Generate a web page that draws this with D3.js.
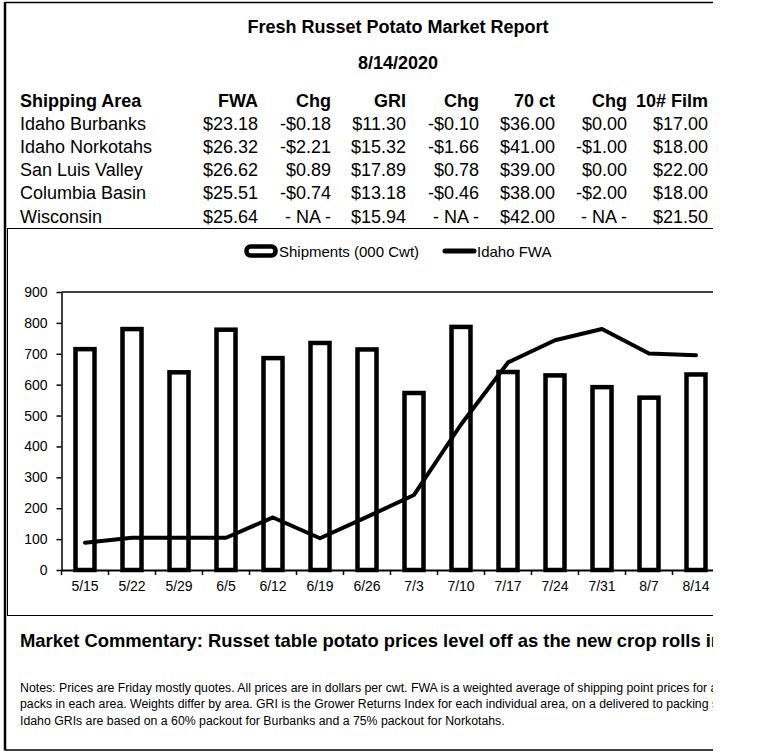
<!DOCTYPE html>
<html>
<head>
<meta charset="utf-8">
<script src="https://cdn.jsdelivr.net/npm/d3@7"></script>
<style>
  body { margin: 0; background: #fff; }
  svg { display: block; font-family: "Liberation Sans", Arial, sans-serif; }
  text { fill: #000; }
</style>
</head>
<body>
<svg width="773" height="755"></svg>
<script>
// table
const headers = ["Shipping Area", "FWA", "Chg", "GRI", "Chg", "70 ct", "Chg", "10# Film"]
const areas = ["Idaho Burbanks", "Idaho Norkotahs", "San Luis Valley", "Columbia Basin", "Wisconsin"]
const fwa = ["$23.18", "$26.32", "$26.62", "$25.51", "$25.64"]
const fwaChg = ["-$0.18", "-$2.21", "$0.89", "-$0.74", "- NA -"]
const gri = ["$11.30", "$15.32", "$17.89", "$13.18", "$15.94"]
const griChg = ["-$0.10", "-$1.66", "$0.78", "-$0.46", "- NA -"]
const ct70 = ["$36.00", "$41.00", "$39.00", "$38.00", "$42.00"]
const ct70Chg = ["$0.00", "-$1.00", "$0.00", "-$2.00", "- NA -"]
const film10 = ["$17.00", "$18.00", "$22.00", "$18.00", "$21.50"]

// chart
const weeks = ["5/15", "5/22", "5/29", "6/5", "6/12", "6/19", "6/26", "7/3", "7/10", "7/17", "7/24", "7/31", "8/7", "8/14"]
const shipments = [715, 780, 640, 778, 686, 735, 714, 573, 787, 641, 630, 592, 558, 633]
const idahoFWA = [2.95, 3.48, 3.48, 3.48, 5.67, 3.43, 5.73, 8.1, 15.7, 22.4, 24.8, 26.0, 23.36, 23.18]
const yTicks = [0, 100, 200, 300, 400, 500, 600, 700, 800, 900]

const notes = [
  "Notes: Prices are Friday mostly quotes. All prices are in dollars per cwt. FWA is a weighted average of shipping point prices for all",
  "packs in each area. Weights differ by area. GRI is the Grower Returns Index for each individual area, on a delivered to packing shed basis.",
  "Idaho GRIs are based on a 60% packout for Burbanks and a 75% packout for Norkotahs."
]

const svg = d3.select("svg")

svg.append("clipPath").attr("id", "page")
  .append("rect").attr("x", 0).attr("y", 0).attr("width", 713).attr("height", 755)

const page = svg.append("g").attr("clip-path", "url(#page)")

// frame
page.append("line").attr("x1", 5).attr("x2", 800).attr("y1", 2.5).attr("y2", 2.5)
  .attr("stroke", "#000").attr("stroke-width", 1.5)
page.append("line").attr("x1", 5).attr("x2", 800).attr("y1", 750).attr("y2", 750)
  .attr("stroke", "#000").attr("stroke-width", 1.5)
page.append("line").attr("x1", 5).attr("x2", 5).attr("y1", 2).attr("y2", 750.5)
  .attr("stroke", "#000").attr("stroke-width", 2.5)
page.append("rect").attr("x", 7.5).attr("y", 228.5).attr("width", 800).attr("height", 387)
  .attr("fill", "none").attr("stroke", "#000").attr("stroke-width", 1)

// titles
page.append("text").attr("x", 398).attr("y", 33).attr("text-anchor", "middle")
  .style("font-size", "18px").style("font-weight", "bold")
  .text("Fresh Russet Potato Market Report")
page.append("text").attr("x", 398).attr("y", 69).attr("text-anchor", "middle")
  .style("font-size", "18px").style("font-weight", "bold")
  .text("8/14/2020")

// table
const colRight = [null, 258, 331, 406, 479, 555, 627, 708]
const columns = [areas, fwa, fwaChg, gri, griChg, ct70, ct70Chg, film10]

headers.forEach((h, c) => {
  page.append("text")
    .attr("x", c === 0 ? 20 : colRight[c])
    .attr("y", 106.5)
    .attr("text-anchor", c === 0 ? "start" : "end")
    .style("font-size", "18px").style("font-weight", "bold")
    .text(h)
})

columns.forEach((col, c) => {
  page.selectAll(null)
    .data(col)
    .enter()
    .append("text")
    .attr("x", c === 0 ? 20 : colRight[c])
    .attr("y", (d, i) => 129.7 + i * 23.2)
    .attr("text-anchor", c === 0 ? "start" : "end")
    .style("font-size", "18px")
    .text(d => d)
})

// chart scales
const x = d3.scaleBand().domain(weeks).range([61.5, 719.5])
const y = d3.scaleLinear().domain([0, 900]).range([570, 292])
const y2 = d3.scaleLinear().domain([0, 30]).range([570, 292])

// plot top line
page.append("line").attr("x1", 61.5).attr("x2", 719.5).attr("y1", 292).attr("y2", 292)
  .attr("stroke", "#000").attr("stroke-width", 1.5)

// bars
const barW = 19
page.append("g")
  .selectAll("rect")
  .data(shipments)
  .enter()
  .append("rect")
  .attr("x", (d, i) => x(weeks[i]) + (x.bandwidth() - barW) / 2)
  .attr("y", d => y(d))
  .attr("width", barW)
  .attr("height", d => y(0) - y(d))
  .attr("fill", "#fff")
  .attr("stroke", "#000")
  .attr("stroke-width", 4.5)

// line
const line = d3.line()
  .x((d, i) => x(weeks[i]) + x.bandwidth() / 2)
  .y(d => y2(d))

page.append("path")
  .datum(idahoFWA)
  .attr("d", line)
  .attr("fill", "none")
  .attr("stroke", "#000")
  .attr("stroke-width", 4)
  .attr("stroke-linejoin", "round")
  .attr("stroke-linecap", "round")

// y axis
const yAxis = page.append("g")
  .attr("transform", "translate(61.5,0)")
  .call(d3.axisLeft(y).tickValues(yTicks).tickSizeInner(5).tickSizeOuter(0).tickPadding(9))
yAxis.select(".domain").attr("stroke-width", 1.5)
yAxis.selectAll(".tick line").attr("stroke-width", 1.5)
yAxis.selectAll("text").style("font-size", "14px").style("font-family", "Liberation Sans, Arial").attr("fill", "#000")

// x axis
const xAxis = page.append("g")
  .attr("transform", "translate(0,570)")
  .call(d3.axisBottom(x).tickSizeInner(0).tickSizeOuter(0).tickPadding(11))
xAxis.select(".domain").attr("stroke-width", 2)
xAxis.selectAll("text").style("font-size", "14px").style("font-family", "Liberation Sans, Arial").attr("fill", "#000")

// tick marks between categories
xAxis.selectAll(".bound")
  .data(weeks.concat(["end"]))
  .enter()
  .append("line")
  .attr("x1", (d, i) => 61.5 + i * x.step())
  .attr("x2", (d, i) => 61.5 + i * x.step())
  .attr("y1", 0)
  .attr("y2", 5)
  .attr("stroke", "#000")
  .attr("stroke-width", 1.5)

// legend
const legend = page.append("g")
legend.append("rect").attr("x", 246.5).attr("y", 246.5).attr("width", 29).attr("height", 9).attr("rx", 4)
  .attr("fill", "#fff").attr("stroke", "#000").attr("stroke-width", 4.5)
legend.append("text").attr("x", 279).attr("y", 256.5).style("font-size", "15px").text("Shipments (000 Cwt)")
legend.append("line").attr("x1", 445).attr("x2", 474).attr("y1", 251).attr("y2", 251)
  .attr("stroke", "#000").attr("stroke-width", 5).attr("stroke-linecap", "round")
legend.append("text").attr("x", 477).attr("y", 256.5).style("font-size", "15px").text("Idaho FWA")

// commentary and notes
page.append("text").attr("x", 20).attr("y", 647)
  .style("font-size", "18.4px").style("font-weight", "bold")
  .text("Market Commentary: Russet table potato prices level off as the new crop rolls in")

page.selectAll(".note")
  .data(notes)
  .enter()
  .append("text")
  .attr("x", 20)
  .attr("y", (d, i) => 692 + i * 16.3)
  .style("font-size", "12.3px")
  .text(d => d)
</script>
</body>
</html>
